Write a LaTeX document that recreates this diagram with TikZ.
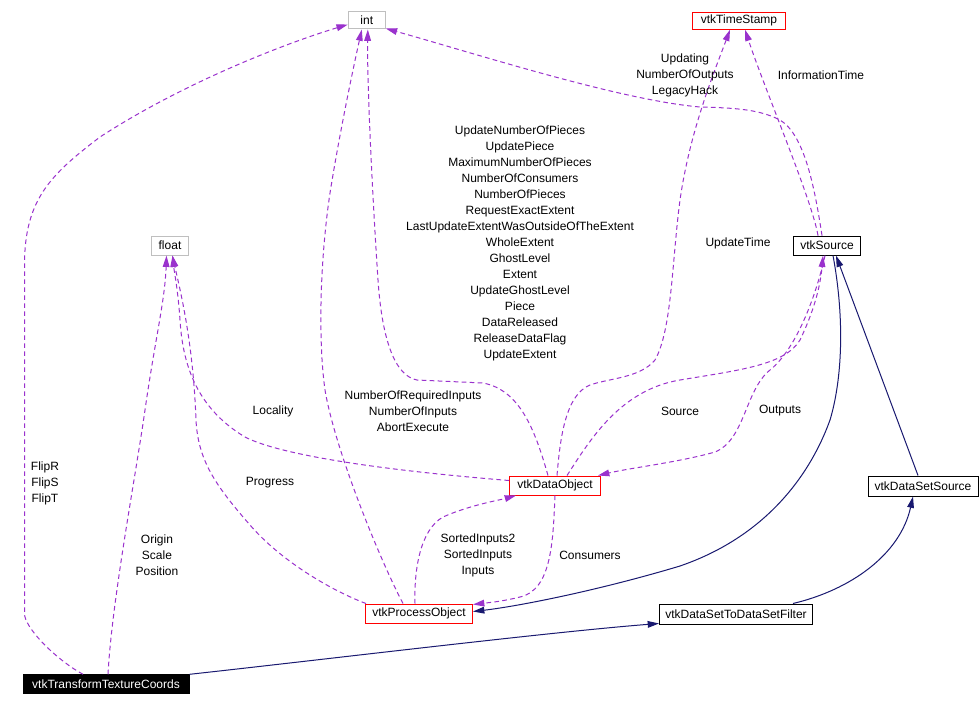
\documentclass[tikz,border=0pt]{standalone}
\usepackage{fontspec}
\setmainfont{Liberation Sans}
\usetikzlibrary{arrows.meta,calc}
\definecolor{depc}{HTML}{9A32CD}
\definecolor{inhc}{HTML}{191970}
\definecolor{greyc}{HTML}{BFBFBF}
\begin{document}
\begin{tikzpicture}[x=0.75pt,y=-0.75pt,
  cls/.style={draw, rectangle, inner sep=0pt, line width=0.75pt, fill=white,
    font=\fontsize{9}{12}\selectfont},
  redbox/.style={cls, draw=red},
  greybox/.style={cls, draw=greyc},
  blackbox/.style={cls, draw=black},
  lbl/.style={inner sep=0pt, align=center, font=\fontsize{9}{12}\selectfont},
  dep/.style={draw=depc, line width=0.75pt, dash pattern=on 3.5pt off 2.5pt,
    -{Triangle[length=8.5pt,width=5pt]}},
  inh/.style={draw=inhc, line width=0.75pt,
    -{Triangle[length=8.5pt,width=5pt]}}]
\useasboundingbox (0,0) rectangle (980,706);
\fill[white] (0,0) rectangle (980,706);

% nodes
\node[greybox, minimum width=37*0.75pt, minimum height=17*0.75pt] (int) at (366.8,20.5) {int};
\node[redbox, minimum width=93*0.75pt, minimum height=17*0.75pt] (ts) at (739,20.7) {vtkTimeStamp};
\node[greybox, minimum width=37*0.75pt, minimum height=19*0.75pt] (float) at (170,245.6) {float};
\node[blackbox, minimum width=67*0.75pt, minimum height=19*0.75pt] (src) at (827,245.6) {vtkSource};
\node[redbox, minimum width=91*0.75pt, minimum height=19*0.75pt] (do) at (555,485.5) {vtkDataObject};
\node[blackbox, minimum width=110*0.75pt, minimum height=20*0.75pt] (dss) at (923,486) {vtkDataSetSource};
\node[redbox, minimum width=107*0.75pt, minimum height=19*0.75pt] (po) at (419,613.5) {vtkProcessObject};
\node[blackbox, minimum width=153*0.75pt, minimum height=20*0.75pt] (dstf) at (736,614) {vtkDataSetToDataSetFilter};
\node[cls, fill=black, text=white, minimum width=166*0.75pt, minimum height=19*0.75pt] (ttc) at (106,684.3) {vtkTransformTextureCoords};

% dependency edges (dashed)
\draw[dep] ($(ttc.north)+(-23,0)$) .. controls (60,662) and (27.5,632) .. (24.5,615) -- (24.5,265)
  .. controls (24.5,200) and (50,175) .. (100,137) .. controls (180,85) and (280,45) .. ($(int.west)+(0,4)$);
\draw[dep] ($(ttc.north)+(2,0)$) .. controls (112,600) and (135,480) .. (145,410)
  .. controls (155,340) and (165,300) .. ($(float.south)+(-3.5,0)$);
\draw[dep] ($(po.north west)+(1,0)$) .. controls (330,590) and (280,560) .. (250,525)
  .. controls (215,485) and (198,460) .. (196,420) .. controls (193,340) and (180,290) .. ($(float.south)+(2.5,0)$);
\draw[dep] ($(do.west)+(0,-5)$) .. controls (380,470) and (280,455) .. (245,437)
  .. controls (200,410) and (183,370) .. (180,320) .. controls (178,290) and (174,270) .. ($(float.south)+(2.5,0)$);
\draw[dep] ($(po.north)+(-16,0)$) .. controls (380,560) and (335,450) .. (325,390)
  .. controls (318,340) and (320,260) .. (330,193) .. controls (340,130) and (355,60) .. ($(int.south)+(-5,0)$);
\draw[dep] ($(do.north)+(-7,0)$) .. controls (535,430) and (520,390) .. (483,383) -- (417,380)
  .. controls (395,376) and (382,340) .. (378,280) .. controls (372,190) and (367,80) .. ($(int.south)+(1,0)$);
\draw[dep] ($(src.north)+(-5,0)$) .. controls (815,190) and (805,135) .. (780,120)
  .. controls (760,110) and (740,108) .. (700,107) .. controls (620,100) and (480,55) .. ($(int.south east)+(0,-1)$);
\draw[dep] ($(src.north)+(-9,0)$) .. controls (812,200) and (765,90) .. ($(ts.south)+(6,0)$);
\draw[dep] ($(do.north)+(2,0)$) .. controls (560,440) and (565,395) .. (590,385)
  .. controls (610,378) and (640,378) .. (655,360) .. controls (672,330) and (672,260) .. (680,200)
  .. controls (690,130) and (715,70) .. ($(ts.south)+(-9,0)$);
\draw[dep] ($(do.north)+(12,0)$) .. controls (590,440) and (620,390) .. (680,380)
  .. controls (740,370) and (785,365) .. (800,340) .. controls (812,315) and (820,290) .. ($(src.south)+(-4,0)$);
\draw[dep] ($(src.south)+(-2,0)$) .. controls (815,300) and (795,350) .. (770,370)
  .. controls (745,390) and (745,440) .. (715,452) .. controls (680,462) and (630,468) .. ($(do.north east)+(-3,0)$);
\draw[dep] ($(po.north)+(-4,0)$) .. controls (414,570) and (420,530) .. (443,517)
  .. controls (470,505) and (500,500) .. ($(do.south west)+(7,0)$);
\draw[dep] (do.south) .. controls (553,540) and (552,590) .. (520,597)
  .. controls (500,602) and (485,603) .. ($(po.north east)+(0,1)$);

% inheritance edges (solid)
\draw[inh] ($(src.south)+(6,0)$) .. controls (845,320) and (842,380) .. (830,420)
  .. controls (812,470) and (770,535) .. (680,566) .. controls (600,590) and (520,606) .. ($(po.east)+(0,-2)$);
\draw[inh] ($(dss.north)+(-5,0)$) -- ($(src.south)+(9,0)$);
\draw[inh] ($(dstf.north)+(57,0)$) .. controls (850,590) and (900,555) .. ($(dss.south)+(-10,0)$);
\draw[inh] (ttc.north east) .. controls (320,660) and (550,632) .. ($(dstf.south west)+(0,-1)$);

% labels
\node[lbl] (lflip) at (45,483) {FlipR\\FlipS\\FlipT};
\node[lbl] (lorig) at (157,555) {Origin\\Scale\\Position};
\node[lbl] (lprog) at (270,483) {Progress};
\node[lbl] (lloc) at (273,411) {Locality};
\node[lbl] (lnum) at (413,411) {NumberOfRequiredInputs\\NumberOfInputs\\AbortExecute};
\node[lbl] (lbig) at (520,243) {UpdateNumberOfPieces\\UpdatePiece\\MaximumNumberOfPieces\\NumberOfConsumers\\NumberOfPieces\\RequestExactExtent\\LastUpdateExtentWasOutsideOfTheExtent\\WholeExtent\\GhostLevel\\Extent\\UpdateGhostLevel\\Piece\\DataReleased\\ReleaseDataFlag\\UpdateExtent};
\node[lbl] (lupd) at (685,75) {Updating\\NumberOfOutputs\\LegacyHack};
\node[lbl] (linfo) at (821,75) {InformationTime};
\node[lbl] (lut) at (738,243) {UpdateTime};
\node[lbl] (lsrc) at (680,411) {Source};
\node[lbl] (lout) at (780,411) {Outputs};
\node[lbl] (lsort) at (478,555) {SortedInputs2\\SortedInputs\\Inputs};
\node[lbl] (lcons) at (590,555) {Consumers};
\end{tikzpicture}
\end{document}
